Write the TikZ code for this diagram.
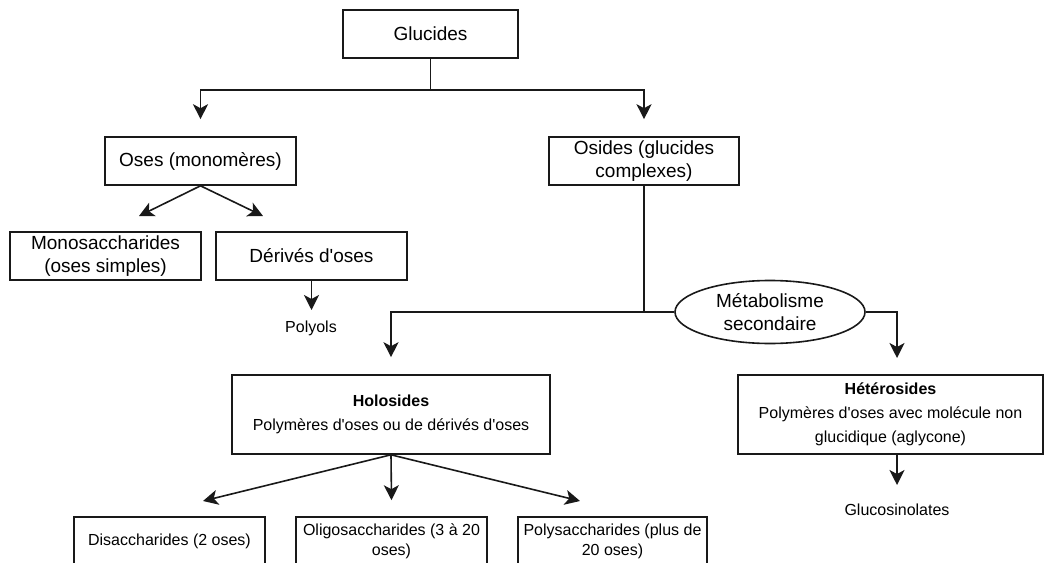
\documentclass[tikz,border=0pt]{standalone}
\usepackage{fontspec}
\setmainfont{Liberation Sans}
\usetikzlibrary{arrows.meta,shapes.geometric}
\newcommand{\ap}{\textquotesingle}
\begin{document}
\begin{tikzpicture}[x=1pt,y=-1pt,
  wire/.style={line width=1.6pt,draw=black!90},
  arr/.style={wire,-{Stealth[length=15pt,width=15pt,inset=4pt]}},
  box/.style={draw=black!90,line width=1.6pt,fill=white,minimum height=48pt,
    inner sep=0pt,align=center,font=\fontsize{19}{23.5}\selectfont},
  sbox/.style={box,font=\fontsize{16}{20}\selectfont},
  bigbox/.style={box,minimum height=79pt,font=\fontsize{16}{24}\selectfont},
  ell/.style={draw=black!90,line width=1.6pt,fill=white,ellipse,minimum width=190pt,
    minimum height=63pt,inner sep=0pt,align=center,font=\fontsize{19}{23}\selectfont},
  lbl/.style={inner sep=0pt,font=\fontsize{16}{19}\selectfont}
]
\useasboundingbox (0,0) rectangle (1046,562);

% boxes
\node[box,minimum width=175pt] (glu) at (430.5,34) {Glucides};
\node[box,minimum width=191pt] (oses) at (200.5,161) {Oses (monomères)};
\node[box,minimum width=190pt] (osides) at (644,161) {Osides (glucides\\complexes)};
\node[box,minimum width=191pt] (mono) at (105.5,256) {Monosaccharides\\(oses simples)};
\node[box,minimum width=191pt] (deriv) at (311.5,256) {Dérivés d\ap oses};
\node[lbl] (polyols) at (311,328) {Polyols};
\node[ell] (meta) at (770,312) {Métabolisme\\secondaire};
\node[bigbox,minimum width=318pt] (holo) at (391,414.5)
  {\textbf{Holosides}\\Polymères d\ap oses ou de dérivés d\ap oses};
\node[bigbox,minimum width=305pt] (hetero) at (890.5,414.5)
  {\textbf{Hétérosides}\\Polymères d\ap oses avec molécule non\\glucidique (aglycone)};
\node[lbl] (gluco) at (897,510) {Glucosinolates};
\node[sbox,minimum width=191pt] (di) at (169.5,541) {Disaccharides (2 oses)};
\node[sbox,minimum width=191pt] (oligo) at (391.5,541) {Oligosaccharides (3 à 20\\oses)};
\node[sbox,minimum width=189pt] (poly) at (612.5,541) {Polysaccharides (plus de\\20 oses)};

% arrow ends
\coordinate (t1) at (139,216);
\coordinate (t2) at (263,216);
\coordinate (t3) at (311.5,310);
\coordinate (t4) at (897,358);
\coordinate (t5) at (203,501);
\coordinate (t6) at (580,501);
\coordinate (t7) at (897,485);

% connectors
\draw[wire] (glu.south) -- ++(0,31) coordinate (j1);
\draw[arr] (j1) -| ([yshift=17pt]oses.north);
\draw[arr] (j1) -| ([yshift=17pt]osides.north);
\draw[arr] (oses.south) -- (t1);
\draw[arr] (oses.south) -- (t2);
\draw[arr] (deriv.south) -- (t3);
\draw[wire] (osides.south) -- (osides.south |- meta.west) coordinate (j2) -- (meta.west);
\draw[arr] (j2) -| ([yshift=17pt]holo.north);
\draw[arr] (meta.east) -| (t4);
\draw[arr] (holo.south) -- (t5);
\draw[arr] (holo.south) -- ([yshift=16pt]oligo.north);
\draw[arr] (holo.south) -- (t6);
\draw[arr] (t7 |- hetero.south) -- (t7);
\end{tikzpicture}
\end{document}
